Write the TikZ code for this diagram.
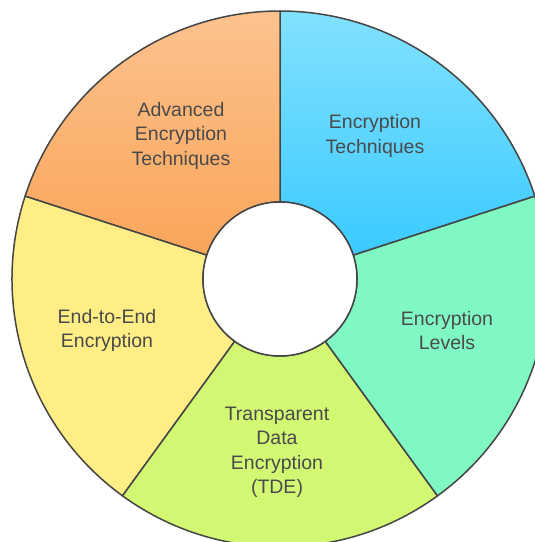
\documentclass[tikz,border=0pt]{standalone}
\usepackage{fontspec}
\setmainfont{Liberation Sans}
\begin{document}
\begin{tikzpicture}[x=1pt,y=1pt,
  segline/.style={draw=edgegray, line width=1.5pt, line join=round},
  lbl/.style={text=txtgray, align=center, font=\fontsize{19.5}{24.5}\selectfont, inner sep=0pt}]
\definecolor{edgegray}{HTML}{454545}
\definecolor{txtgray}{HTML}{4A4A4A}
\definecolor{blueTop}{HTML}{82E1FF}
\definecolor{blueBot}{HTML}{3ACAFF}
\definecolor{orTop}{HTML}{FDC28E}
\definecolor{orBot}{HTML}{F9A55A}
\definecolor{mint}{HTML}{80F8C3}
\definecolor{lime}{HTML}{D2F773}
\definecolor{yel}{HTML}{FFEE85}
\useasboundingbox (0,0) rectangle (535,542);
\clip (0,0) rectangle (535,542);
\begin{scope}[shift={(280,263)}]
  % Encryption Techniques 18..90
  \path[segline, top color=blueTop, bottom color=blueBot]
    (18:268) arc[start angle=18, end angle=90, radius=268]
    -- (90:77) arc[start angle=90, end angle=18, radius=77] -- cycle;
  % Advanced 90..162
  \path[segline, top color=orTop, bottom color=orBot]
    (90:268) arc[start angle=90, end angle=162, radius=268]
    -- (162:77) arc[start angle=162, end angle=90, radius=77] -- cycle;
  % End-to-End 162..234
  \path[segline, fill=yel]
    (162:268) arc[start angle=162, end angle=234, radius=268]
    -- (234:77) arc[start angle=234, end angle=162, radius=77] -- cycle;
  % TDE 234..306
  \path[segline, fill=lime]
    (234:268) arc[start angle=234, end angle=306, radius=268]
    -- (306:77) arc[start angle=306, end angle=234, radius=77] -- cycle;
  % Levels 306..378
  \path[segline, fill=mint]
    (306:268) arc[start angle=306, end angle=378, radius=268]
    -- (378:77) arc[start angle=378, end angle=306, radius=77] -- cycle;
  \path[segline, fill=white] (0,0) circle[radius=77];
\end{scope}
\node[lbl] (adv) at (181,406.5) {Advanced\\Encryption\\Techniques};
\node[lbl] (tech) at (375,406) {Encryption\\Techniques};
\node[lbl] (lev) at (447,211.5) {Encryption\\Levels};
\node[lbl] (e2e) at (107,211.5) {End-to-End\\Encryption};
\node[lbl] (tde) at (277,89.5) {Transparent\\Data\\Encryption\\(TDE)};
\end{tikzpicture}
\end{document}
